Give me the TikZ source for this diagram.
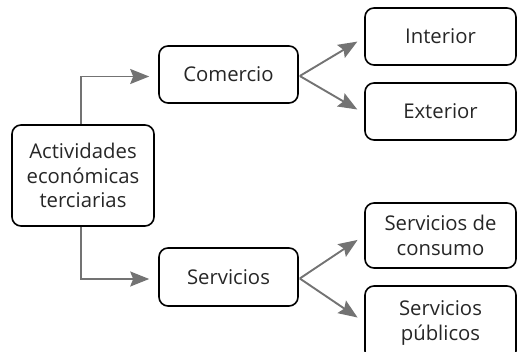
\documentclass[tikz,border=0pt]{standalone}
\usepackage{fontspec}
\setmainfont{Open Sans}
\usetikzlibrary{arrows.meta,calc}
\begin{document}
\begin{tikzpicture}[x=1pt,y=-1pt,
  box/.style={draw=black,line width=1.6pt,rounded corners=9pt,inner sep=0pt,
    align=center,font=\fontsize{20.3}{24.5}\selectfont,text=black!85},
  conn/.style={draw=black!55,line width=1.9pt,-{Stealth[length=19pt,width=15pt,inset=3pt]}}]
\useasboundingbox (0,0) rectangle (517,352);
\node[box,minimum width=142pt,minimum height=101pt] (act) at (83,175.5) {Actividades\\económicas\\terciarias};
\node[box,minimum width=139pt,minimum height=57pt] (com) at (228.5,74.5) {Comercio};
\node[box,minimum width=139pt,minimum height=58pt] (ser) at (228.5,277) {Servicios};
\node[box,minimum width=151pt,minimum height=57pt] (int) at (440.5,36.5) {Interior};
\node[box,minimum width=151pt,minimum height=57pt] (ext) at (440.5,111.5) {Exterior};
\node[box,minimum width=151pt,minimum height=65pt] (sdc) at (440.5,235.5) {Servicios de\\consumo};
\node[box,minimum width=151pt,minimum height=74pt] (spu) at (440.5,323) {Servicios\\públicos};
\coordinate (aN) at ($(act.north)+(-2,0)$);
\coordinate (aS) at ($(act.south)+(-2,0)$);
\draw[conn,shorten >=9pt] (aN) |- ($(com.west)+(0,2)$);
\draw[conn,shorten >=9pt] (aS) |- ($(ser.west)+(0,2)$);
\draw[conn,shorten >=8pt] ($(com.east)+(1,1.5)$) -- ($(int.west)+(0,1)$);
\draw[conn,shorten >=8pt] ($(com.east)+(1,1.5)$) -- ($(ext.west)+(0,2)$);
\draw[conn,shorten >=8pt] ($(ser.east)+(1,1.5)$) -- ($(sdc.west)+(0,0)$);
\draw[conn,shorten >=8pt] ($(ser.east)+(1,1.5)$) -- ($(spu.west)+(0,-1)$);
\end{tikzpicture}
\end{document}
